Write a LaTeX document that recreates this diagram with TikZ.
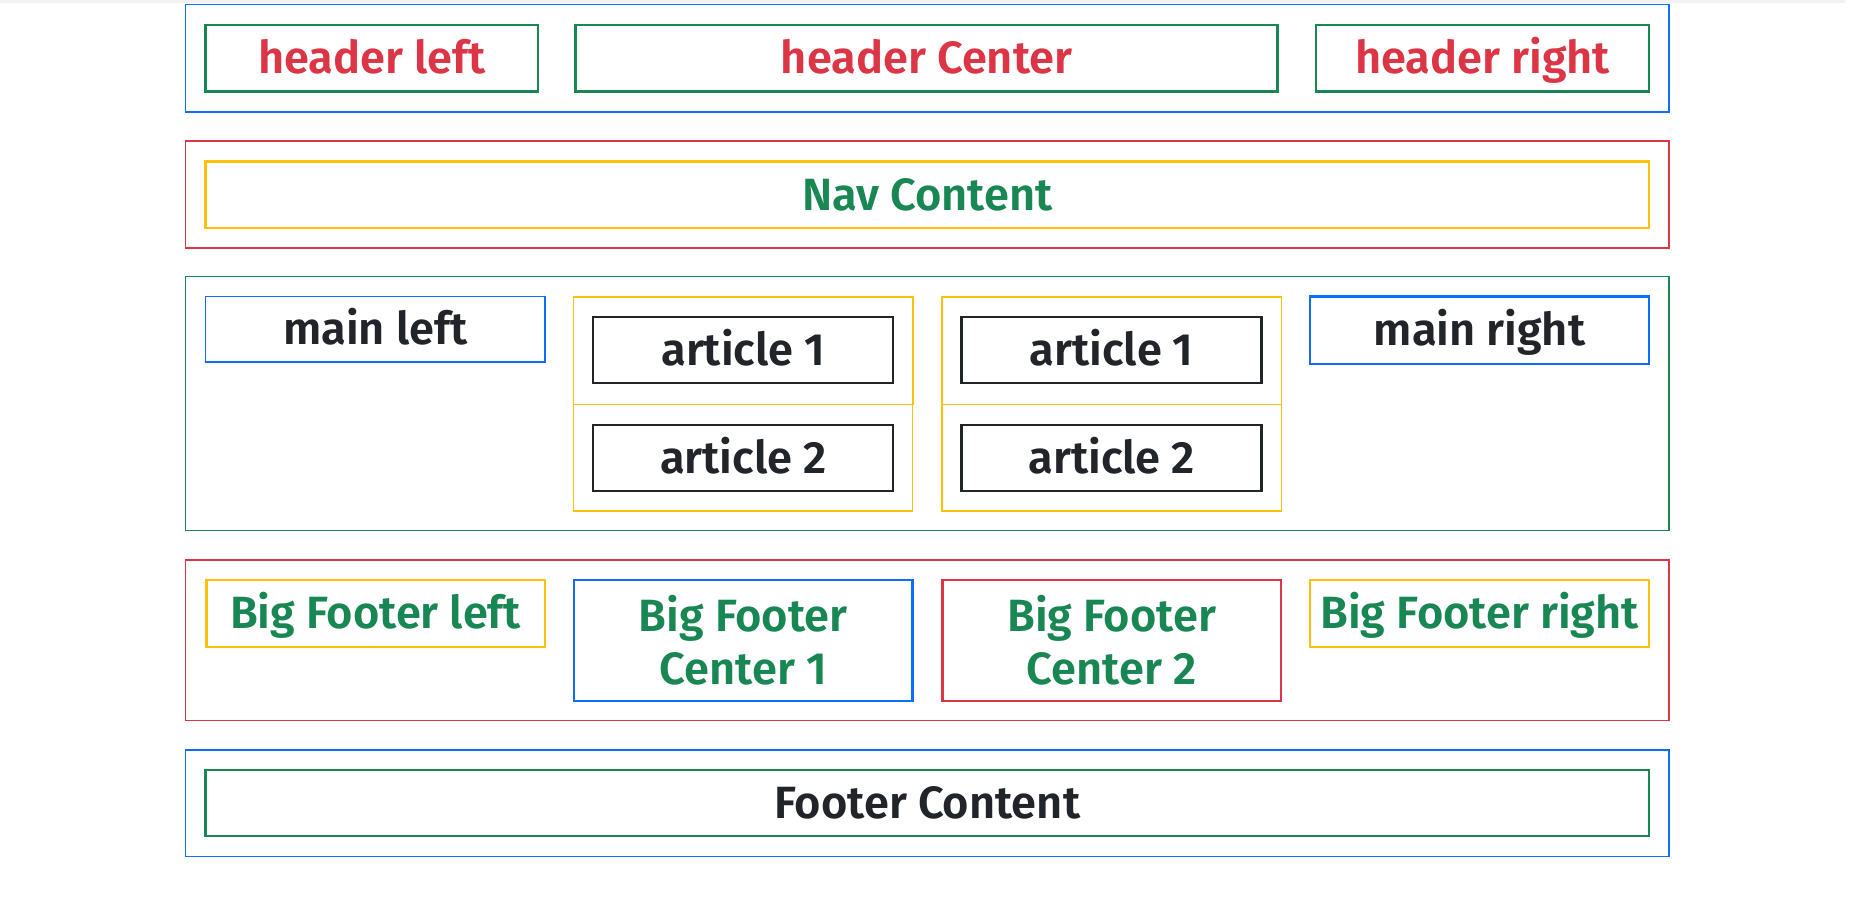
\documentclass[tikz,border=0pt]{standalone}
\usepackage{fontspec}
\setmainfont{Fira Sans}[BoldFont={Fira Sans SemiBold}]
\definecolor{bsblue}{HTML}{0D6EFD}
\definecolor{bsred}{HTML}{DC3545}
\definecolor{bsgreen}{HTML}{198754}
\definecolor{bsyellow}{HTML}{FFC107}
\definecolor{bsdark}{HTML}{212529}
\newcommand{\px}{0.5pt}

\begin{document}
\begin{tikzpicture}
		[x=0.5pt,y=-0.5pt,
		wrap/.style={rectangle,draw,line width=0.75pt,inner sep=0pt,minimum width=1483.3*\px},
		cell/.style={rectangle,draw,line width=1.2pt,inner sep=0pt,minimum height=66.5*\px,
			font=\bfseries\fontsize{22.6}{26.7}\selectfont,text height=15.6pt,text depth=0pt},
		tall/.style={rectangle,draw,line width=1.2pt,inner sep=0pt,minimum height=120.7*\px,
			font=\bfseries\fontsize{22.6}{26.7}\selectfont,align=center},
		col/.style={rectangle,draw=bsyellow,inner sep=0pt,minimum width=339.3*\px},]
		\useasboundingbox (0,0) rectangle (1853,923);
		\fill[gray!10] (0,0) rectangle (1845,3);
		
		% header
		\node[wrap,draw=bsblue,minimum height=107.3*\px] (head) at (927.15,58.35){};
		\node[cell,draw=bsgreen,text=bsred,minimum width=332.6*\px] (headleft) at (371.9,58.15){header left};
		\node[cell,draw=bsgreen,text=bsred,minimum width=702*\px] (headcenter) at (926.6,58.15){header Center};
		\node[cell,draw=bsgreen,text=bsred,minimum width=333.4*\px] (headright) at (1482.5,58.15){header right};
		
		% nav
		\node[wrap,draw=bsred,minimum height=107*\px] (nav) at (927.15,194.5){};
		\node[cell,draw=bsyellow,text=bsgreen,minimum width=1443.4*\px] (navcontent) at (927.3,194.7){Nav Content};
		
		% main
		\node[wrap,draw=bsgreen,minimum height=254*\px] (main) at (927.15,403.7){};
		\node[cell,draw=bsblue,text=bsdark,line width=0.8pt,minimum width=339.2*\px,minimum height=65.4*\px] (mainleft) at (375.2,329.3){main left};
		\node[cell,draw=bsblue,text=bsdark,minimum width=339*\px,minimum height=67.3*\px] (mainright) at (1479.5,330.3){main right};
		\foreach \c/\x in {a/743.25,b/1111.65}{
			\node[col,line width=0.55pt,minimum height=106.7*\px] (col\c bot) at (\x,457.65){};
			\node[col,line width=0.8pt,minimum height=107.6*\px] (col\c top) at (\x,350.5){};
			\node[cell,draw=bsdark,text=bsdark,minimum width=300*\px] (art\c one) at (\x,350){article 1};
			\node[cell,draw=bsdark,text=bsdark,minimum width=300*\px] (art\c two) at (\x,458){article 2};
		}
		
		% big footer
		\node[wrap,draw=bsred,minimum height=160.7*\px] (bigfoot) at (927.15,640.35){};
		\node[cell,draw=bsyellow,text=bsgreen,minimum width=338.3*\px,minimum height=66.7*\px] (bigleft) at (375.55,613.35){Big Footer left};
		\node[tall,draw=bsblue,text=bsgreen,minimum width=338.8*\px] (bigcenterone) at (743.2,640.35){Big Footer\\Center 1};
		\node[tall,draw=bsred,text=bsgreen,minimum width=338.6*\px] (bigcentertwo) at (1111.6,640.35){Big Footer\\Center 2};
		\node[cell,draw=bsyellow,text=bsgreen,minimum width=339*\px,minimum height=66.7*\px] (bigright) at (1479.5,613.35){Big Footer right};
		
		% footer
		\node[wrap,draw=bsblue,minimum height=106.7*\px] (foot) at (927.15,803.35){};
		\node[cell,draw=bsgreen,text=bsdark,minimum width=1443.4*\px] (footcontent) at (927.3,803){Footer Content};
		
	\end{tikzpicture}
\end{document}
